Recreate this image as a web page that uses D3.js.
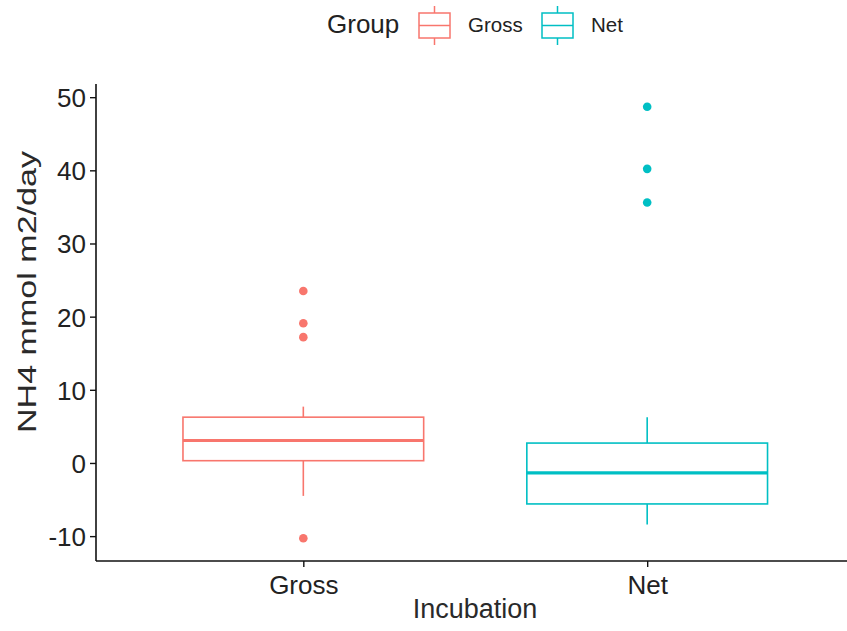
<!DOCTYPE html>
<html>
<head>
<meta charset="utf-8">
<script src="https://cdn.jsdelivr.net/npm/d3@7"></script>
<style>
  html, body { margin: 0; padding: 0; background: #fff; }
  svg { display: block; font-family: "Liberation Sans", Arial, sans-serif; }
</style>
</head>
<body>
<svg id="chart" width="847" height="631"></svg>
<script>
// ---- data ----
const categories = ["Gross", "Net"];
const colors = ["#F8766D", "#00BFC4"];
const whiskerLow = [-4.5, -8.4];
const q1 = [0.31, -5.6];
const median = [3.07, -1.36];
const q3 = [6.26, 2.72];
const whiskerHigh = [7.7, 6.26];
const outliersGross = [23.5, 19.1, 17.2, -10.3];
const outliersNet = [48.7, 40.2, 35.6];
const yTicks = [-10, 0, 10, 20, 30, 40, 50];

const outliers = [outliersGross, outliersNet];
const boxes = categories.map((c, i) => ({
  cat: c, color: colors[i], lo: whiskerLow[i], q1: q1[i], med: median[i],
  q3: q3[i], hi: whiskerHigh[i], out: outliers[i]
}));

const svg = d3.select("#chart");
const pLeft = 96, pRight = 853.5, pTop = 84, pBottom = 561;

const x = d3.scalePoint().domain(categories).range([pLeft + 1, pRight]).padding(0.6);
const y = d3.scaleLinear().domain([-13.4, 51.8]).range([pBottom, pTop]);
const boxW = x.step() * 0.7;

// boxes
const g = svg.append("g");
boxes.forEach(b => {
  const cx = x(b.cat);
  g.append("line").attr("x1", cx).attr("x2", cx).attr("y1", y(b.hi)).attr("y2", y(b.q3))
    .attr("stroke", b.color).attr("stroke-width", 1.6);
  g.append("line").attr("x1", cx).attr("x2", cx).attr("y1", y(b.q1)).attr("y2", y(b.lo))
    .attr("stroke", b.color).attr("stroke-width", 1.6);
  g.append("rect").attr("x", cx - boxW / 2).attr("y", y(b.q3))
    .attr("width", boxW).attr("height", y(b.q1) - y(b.q3))
    .attr("fill", "#fff").attr("stroke", b.color).attr("stroke-width", 1.6);
  g.append("line").attr("x1", cx - boxW / 2).attr("x2", cx + boxW / 2)
    .attr("y1", y(b.med)).attr("y2", y(b.med))
    .attr("stroke", b.color).attr("stroke-width", 3.2);
  g.selectAll(null).data(b.out).enter().append("circle")
    .attr("cx", cx).attr("cy", d => y(d)).attr("r", 4.3).attr("fill", b.color);
});

// axes
const yAxis = svg.append("g").attr("transform", `translate(${pLeft},0)`)
  .call(d3.axisLeft(y).tickValues(yTicks).tickSize(6).tickPadding(4).tickFormat(d => String(d)));
yAxis.select(".domain").attr("d", `M0,${pTop}V${pBottom}`);
const xAxis = svg.append("g").attr("transform", `translate(0,${pBottom})`)
  .call(d3.axisBottom(x).tickSize(6).tickPadding(8));
xAxis.select(".domain").attr("d", `M${pLeft},0H847`);

[yAxis, xAxis].forEach(a => {
  a.select(".domain").attr("stroke", "#111").attr("stroke-width", 1.6);
  a.selectAll(".tick line").attr("stroke", "#111").attr("stroke-width", 1.4);
  a.selectAll(".tick text").attr("fill", "#222").attr("font-size", 26)
    .attr("font-family", "'Liberation Sans', Arial, sans-serif");
});
yAxis.selectAll(".tick text").attr("dy", "0.36em");
xAxis.selectAll(".tick text").attr("dy", "0.72em");

// axis titles
svg.append("text").attr("x", 475).attr("y", 618).attr("text-anchor", "middle")
  .attr("font-size", 27).attr("fill", "#2a2a2a").text("Incubation");
svg.append("text").attr("transform", `translate(36,292) rotate(-90)`)
  .attr("text-anchor", "middle").attr("font-size", 26).attr("fill", "#2a2a2a")
  .attr("textLength", 282).attr("lengthAdjust", "spacingAndGlyphs")
  .text("NH4 mmol m2/day");

// legend
const leg = svg.append("g");
leg.append("text").attr("x", 327).attr("y", 33).attr("font-size", 26).attr("fill", "#222").text("Group");
const legX = [419, 542];
categories.forEach((c, i) => {
  const kx = legX[i], kw = 31, cx = kx + kw / 2;
  leg.append("line").attr("x1", cx).attr("x2", cx).attr("y1", 6).attr("y2", 45)
    .attr("stroke", colors[i]).attr("stroke-width", 1.5);
  leg.append("rect").attr("x", kx).attr("y", 13).attr("width", kw).attr("height", 25)
    .attr("fill", "#fff").attr("stroke", colors[i]).attr("stroke-width", 1.5);
  leg.append("line").attr("x1", kx).attr("x2", kx + kw).attr("y1", 25.5).attr("y2", 25.5)
    .attr("stroke", colors[i]).attr("stroke-width", 1.5);
  leg.append("text").attr("x", kx + kw + 18).attr("y", 32).attr("font-size", 20.5)
    .attr("fill", "#222").text(c);
});
</script>
</body>
</html>
